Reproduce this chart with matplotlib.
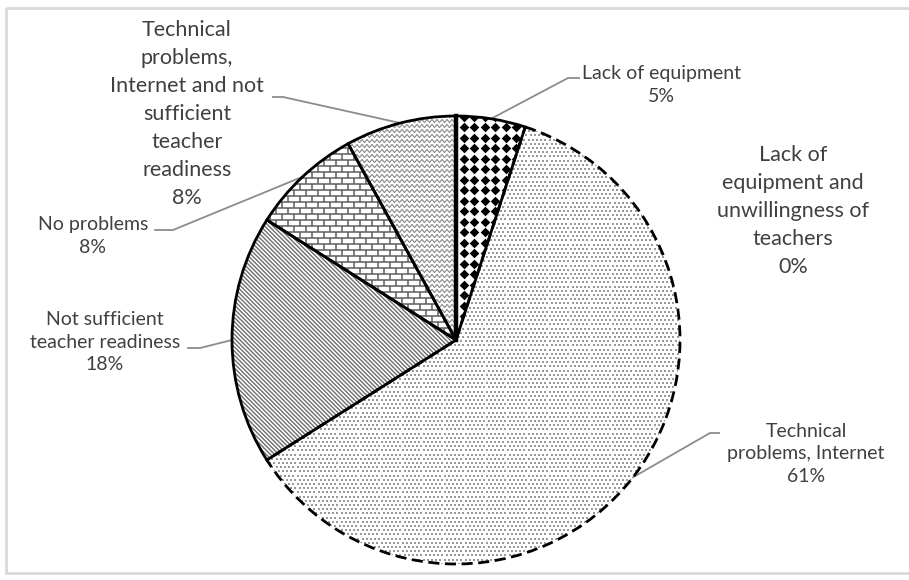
import numpy as np
import matplotlib.pyplot as plt
from matplotlib.patches import Wedge
from matplotlib.collections import LineCollection

# survey answers, clockwise from 12 o'clock
categories = ['Lack of equipment',
              'Lack of equipment and unwillingness of teachers',
              'Technical problems, Internet',
              'Not sufficient teacher readiness',
              'No problems',
              'Technical problems, Internet and not sufficient teacher readiness']
shares = [5, 0, 61, 18, 8, 8]
label_text = ['Lack of equipment',
              'Lack of\nequipment and\nunwillingness of\nteachers',
              'Technical\nproblems, Internet',
              'Not sufficient\nteacher readiness',
              'No problems',
              'Technical\nproblems,\nInternet and not\nsufficient\nteacher\nreadiness']

W, H = 909, 580
CX, CY, R = 456, 340, 224
plt.rcParams['font.family'] = ['Lato', 'DejaVu Sans']

fig = plt.figure(figsize=(W / 100, H / 100), dpi=100)
ax = fig.add_axes([0, 0, 1, 1])

# y axis runs downwards, so counterclock=True reads clockwise on screen
wedges, _ = ax.pie(shares, startangle=-90, counterclock=True, center=(CX, CY),
                   radius=R, wedgeprops=dict(facecolor='white', edgecolor='none'))
ax.set_xlim(0, W)
ax.set_ylim(H, 0)
ax.set_aspect('auto')
ax.axis('off')

x0, x1, y0, y1 = CX - R - 10, CX + R + 10, CY - R - 10, CY + R + 10


def grid_points(dx, dy, stagger=False):
    xs, ys = [], []
    for i, y in enumerate(np.arange(y0, y1, dy)):
        off = dx / 2 if (stagger and i % 2) else 0
        for x in np.arange(x0 + off, x1, dx):
            xs.append(x)
            ys.append(y)
    return np.array(xs), np.array(ys)


# lack of equipment: black diamonds
gx, gy = grid_points(10.5, 10.5)
sc = ax.scatter(gx, gy, marker='D', s=24, color='black', linewidths=0, zorder=2)
sc.set_clip_path(wedges[0])

# technical problems, internet: fine grey dots
gx, gy = grid_points(4.2, 4.2, stagger=True)
sc = ax.scatter(gx, gy, marker='s', s=1.6, color='#9a9a9a', linewidths=0, zorder=2)
sc.set_clip_path(wedges[2])

# not sufficient readiness: downward diagonals
segs = [[(c, y0), (c + (y1 - y0), y1)] for c in np.arange(x0 - (y1 - y0), x1, 4.2)]
lc = LineCollection(segs, colors='#6e6e6e', linewidths=1.0, zorder=2)
ax.add_collection(lc)
lc.set_clip_path(wedges[3])

# no problems: bricks
segs = []
bh, bw = 6.0, 12.0
for i, y in enumerate(np.arange(y0, y1, bh)):
    segs.append([(x0, y), (x1, y)])
    off = bw / 2 if i % 2 else 0
    for x in np.arange(x0 + off, x1, bw):
        segs.append([(x, y), (x, y + bh)])
lc = LineCollection(segs, colors='#5e5e5e', linewidths=1.1, zorder=2)
ax.add_collection(lc)
lc.set_clip_path(wedges[4])

# last slice: zigzag waves
segs = []
zx = np.arange(x0, x1, 2.5)
for y in np.arange(y0, y1, 5.0):
    zy = y + np.where(np.arange(len(zx)) % 2, 1.6, -1.6)
    segs.append(np.column_stack([zx, zy]))
lc = LineCollection(segs, colors='#8a8a8a', linewidths=0.8, zorder=2)
ax.add_collection(lc)
lc.set_clip_path(wedges[5])

# slice outlines on top of the patterns
for i, w in enumerate(wedges):
    if shares[i] == 0:
        continue
    ls = (0, (4, 2)) if i == 2 else '-'
    ax.add_patch(Wedge((CX, CY), R, w.theta1, w.theta2, fill=False,
                       edgecolor='black', linewidth=2.0, linestyle=ls, zorder=3))
ax.plot([CX, CX], [CY, CY - R], color='black', linewidth=3.2, zorder=3)

# data labels with leader lines from the middle of each slice edge
label_pos = [(661, 85), (793, 211), (806, 454), (105, 342), (93, 236), (187, 114)]
elbows = [((568, 78), (579, 78)), None, ((710, 433), (719, 433)),
          ((200, 348), (188, 348)), ((173, 230), (155, 230)), ((283, 97), (273, 97))]
big = [False, True, False, False, False, True]

for i, w in enumerate(wedges):
    txt = f'{label_text[i]}\n{shares[i]}%'
    ax.text(label_pos[i][0], label_pos[i][1], txt, ha='center', va='center',
            multialignment='center', fontsize=15.5 if big[i] else 14,
            linespacing=1.5 if big[i] else 1.4, color='#404040', zorder=4)
    if elbows[i] is None:
        continue
    mid = np.deg2rad((w.theta1 + w.theta2) / 2)
    px, py = CX + R * np.cos(mid), CY + R * np.sin(mid)
    (ex, ey), (tx, ty) = elbows[i]
    ax.plot([px, ex, tx], [py, ey, ty], color='#8c8c8c', linewidth=1.3, zorder=1)

# chart area border
ax.add_patch(plt.Rectangle((6, 8), W, 565, fill=False, edgecolor='#d9d9d9',
                           linewidth=2, zorder=0))

fig.savefig('out.png', dpi=100)
